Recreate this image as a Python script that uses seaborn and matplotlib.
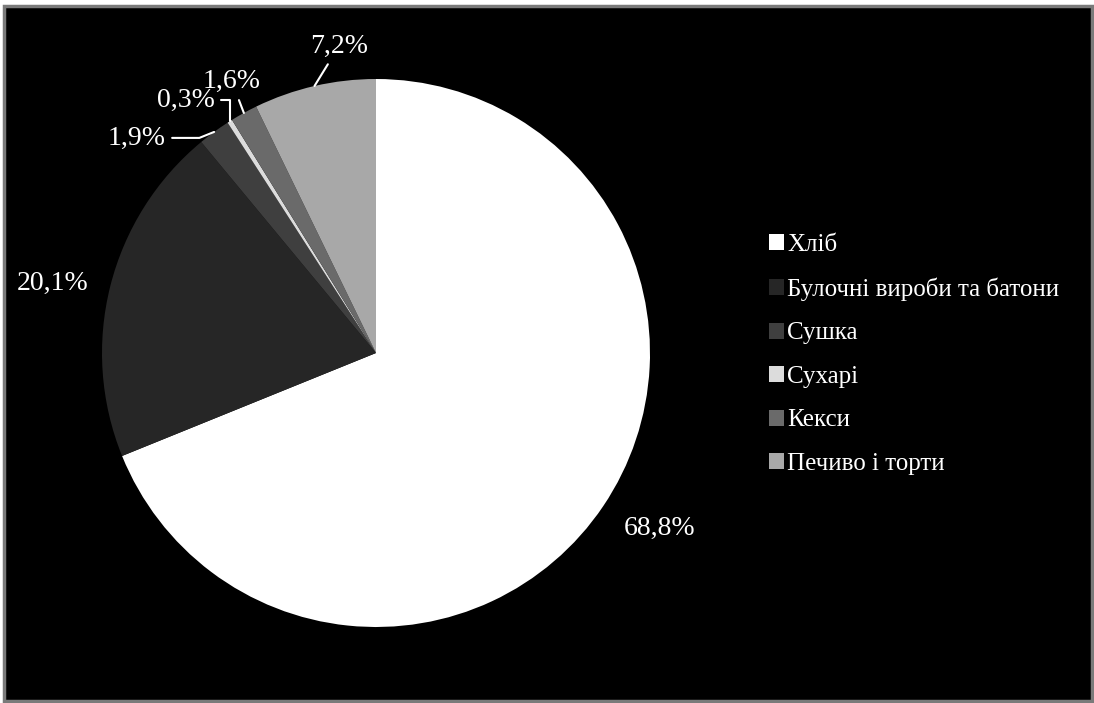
#!/usr/bin/env python3

import numpy as np
import matplotlib
matplotlib.use("Agg")
import matplotlib.pyplot as plt
import seaborn as sns
from matplotlib.patches import Rectangle

sns.set_theme(style="white")
plt.rcParams['font.family'] = ['Liberation Serif', 'DejaVu Serif']

# Data
categories = ['Хліб', 'Булочні вироби та батони', 'Сушка', 'Сухарі', 'Кекси', 'Печиво і торти']
shares = [68.8, 20.1, 1.9, 0.3, 1.6, 7.2]
labels = ['68,8%', '20,1%', '1,9%', '0,3%', '1,6%', '7,2%']
colors = ['#ffffff', '#262626', '#3f3f3f', '#dcdcdc', '#6a6a6a', '#a8a8a8']

# label placement (data units, pie radius = 1) and leader line style
label_pos = [(1.035, -0.64), (-1.18, 0.255), (-0.872, 0.785),
             (-0.693, 0.923), (-0.526, 0.99), (-0.135, 1.12)]
leaders = [None, None, "angle,angleA=0,angleB=22,rad=0",
           "angle,angleA=0,angleB=90,rad=0", "arc3,rad=0", "arc3,rad=0"]

W, H = 1094, 703
fig = plt.figure(figsize=(W / 100, H / 100), dpi=100)
fig.patch.set_facecolor('white')

# black panel with grey frame (behind everything)
fig.add_artist(Rectangle((4 / W, 2 / H), 1 - 6 / W, 1 - 8 / H, transform=fig.transFigure,
                         facecolor='black', edgecolor='#7a7a7a', linewidth=2.5, zorder=-10))

cx, cy, r = 376, 350, 274
ax = fig.add_axes([(cx - r) / W, (cy - r) / H, 2 * r / W, 2 * r / H])
ax.set_facecolor('none')

wedges, _ = ax.pie(shares, colors=colors, startangle=90, counterclock=False,
                   radius=1, wedgeprops=dict(linewidth=0))
ax.set_xlim(-1, 1)
ax.set_ylim(-1, 1)
ax.set_aspect('equal')
ax.axis('off')

for w, lab, pos, conn in zip(wedges, labels, label_pos, leaders):
    mid = np.deg2rad((w.theta1 + w.theta2) / 2)
    edge = (np.cos(mid), np.sin(mid))
    if conn is None:
        ax.text(pos[0], pos[1], lab, ha='center', va='center', color='white', fontsize=20)
    else:
        ax.annotate(lab, xy=edge, xytext=pos, ha='center', va='center', color='white',
                    fontsize=20, annotation_clip=False,
                    arrowprops=dict(arrowstyle='-', color='white', lw=1.5,
                                    connectionstyle=conn, shrinkA=2, shrinkB=0))

leg = fig.legend(wedges, categories, loc='upper left', bbox_to_anchor=(759 / W, 1 - 224 / H),
                 frameon=False, fontsize=18, labelcolor='white',
                 handlelength=0.6, handleheight=0.6, handletextpad=0.12,
                 labelspacing=0.86, borderaxespad=0)

fig.savefig('out.png', dpi=100, facecolor=fig.get_facecolor())
